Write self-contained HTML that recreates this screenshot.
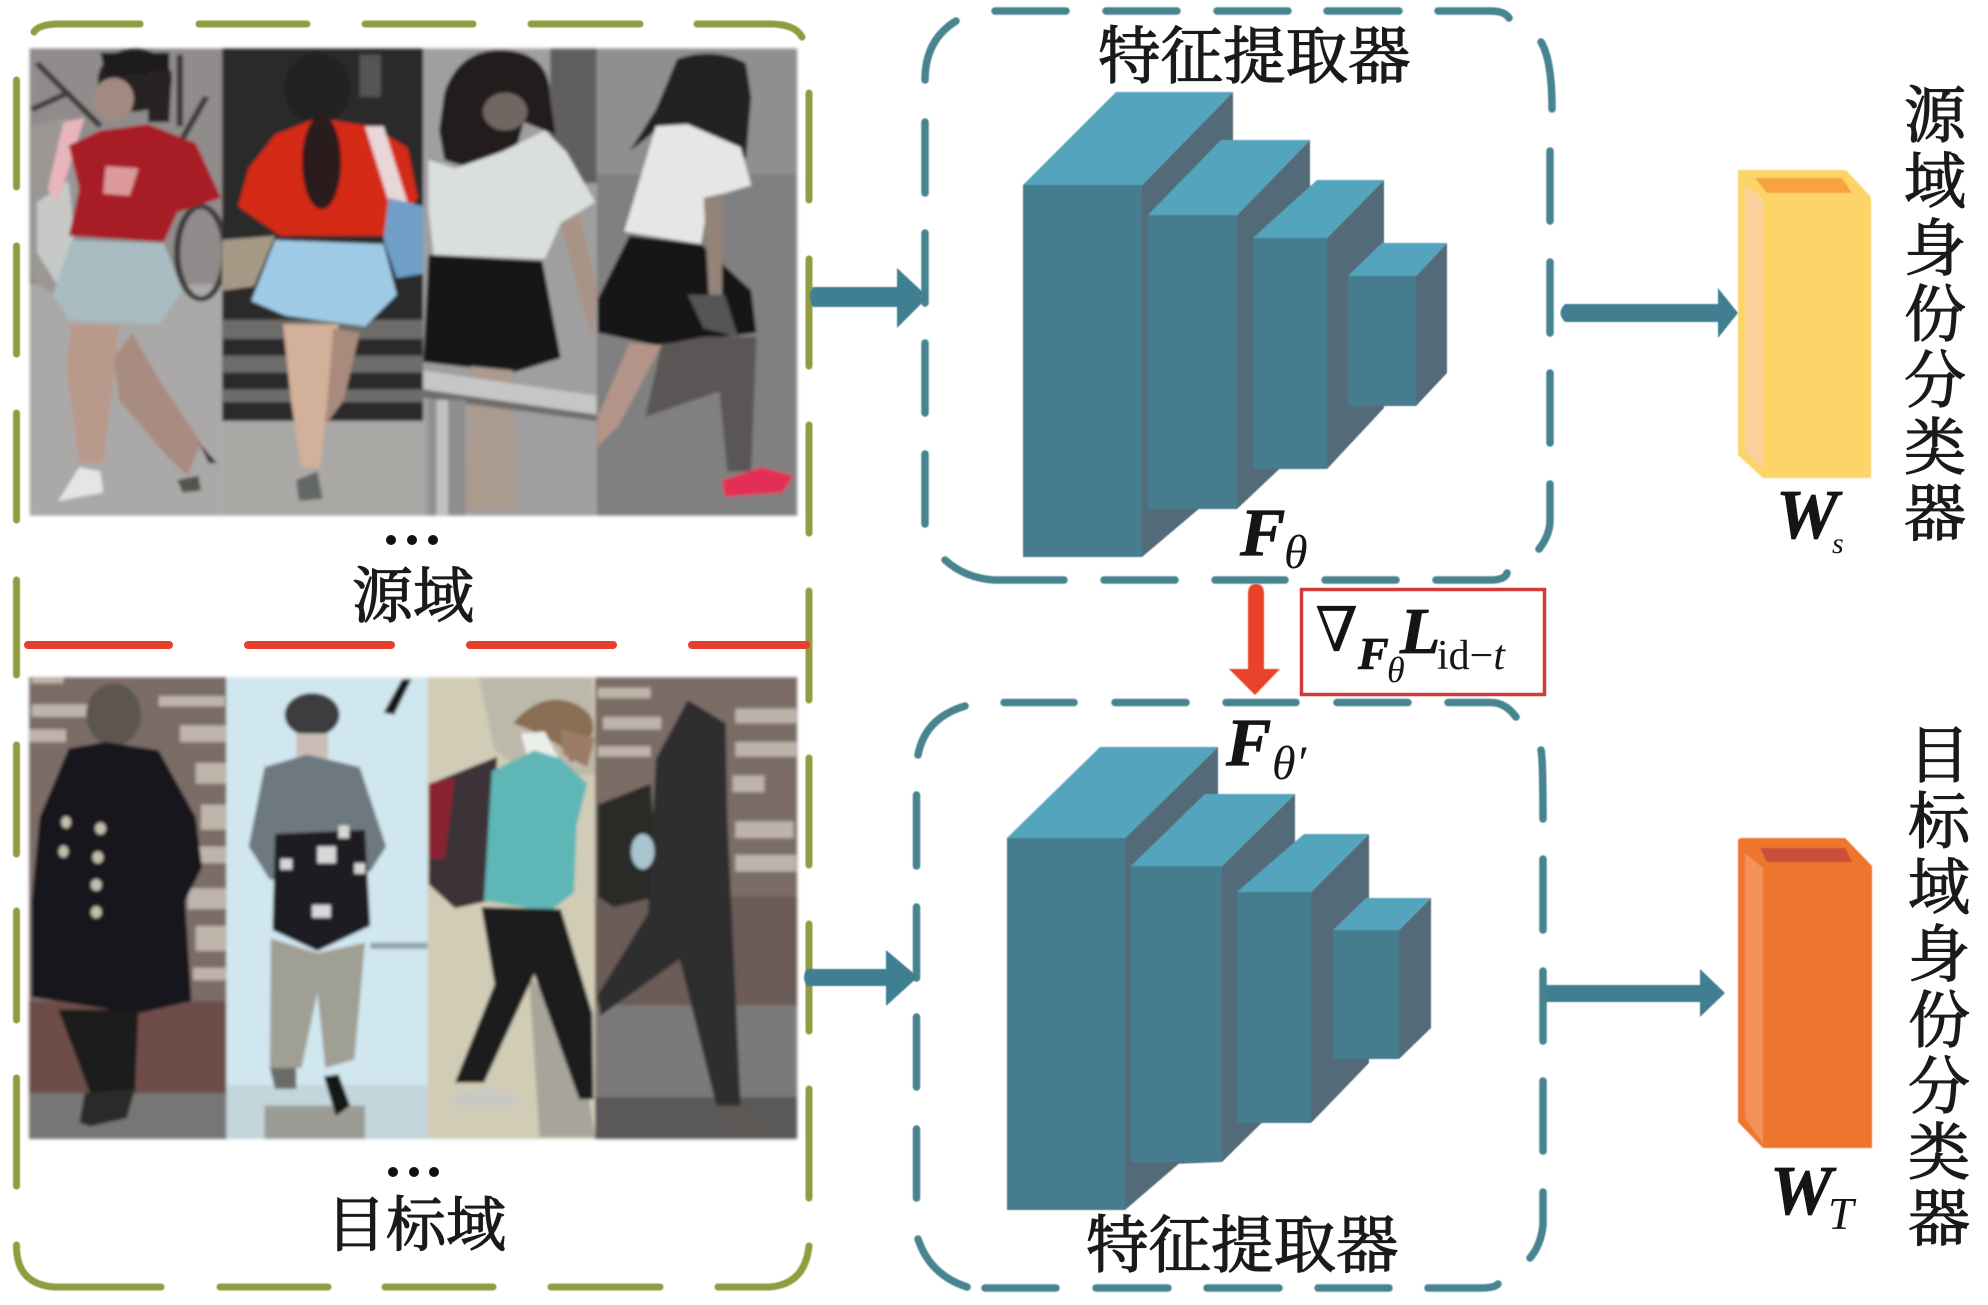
<!DOCTYPE html>
<html>
<head>
<meta charset="utf-8">
<style>
html,body{margin:0;padding:0;background:#fff;width:1988px;height:1305px;overflow:hidden}
svg{display:block}
.cjk{font-family:"Liberation Serif","Noto Serif CJK SC",serif;font-size:62px;fill:#1a1a1a;stroke:#1a1a1a;stroke-width:1.2px}
.m{font-family:"Liberation Serif","DejaVu Serif",serif;fill:#151515}
.bi{font-weight:bold;font-style:italic;stroke:#151515;stroke-width:.8px}
.i{font-style:italic}
</style>
</head>
<body>
<svg width="1988" height="1305" viewBox="0 0 1988 1305" xmlns="http://www.w3.org/2000/svg">
<defs>
<filter id="b" x="-5%" y="-5%" width="110%" height="110%"><feGaussianBlur stdDeviation="1.6"/></filter>
<filter id="s" x="-5%" y="-5%" width="110%" height="110%"><feGaussianBlur stdDeviation=".6"/></filter>
<clipPath id="c1"><rect x="56" y="115" width="1451" height="1110"/></clipPath>
<clipPath id="c2"><rect x="55" y="65" width="1452" height="1105"/></clipPath>
</defs>
<rect width="1988" height="1305" fill="#fff"/>

<!-- source photos -->
<g filter="url(#b)"><g transform="scale(.529,.421)" clip-path="url(#c1)">
<!-- p1 -->
<rect x="56" y="115" width="364" height="1110" fill="#aaa9a7"/>
<rect x="56" y="115" width="364" height="560" fill="#8f8c8b"/>
<g fill="none" stroke="#3c3a3a" stroke-width="12"><path d="M70 150L190 300M60 260L130 220M340 130V300M390 230L340 340"/><ellipse cx="380" cy="600" rx="45" ry="110"/></g>
<path d="M60 300L130 280L150 420L130 580L140 740L60 660Z" fill="#9a9795"/>
<path d="M70 480L130 430L140 560L110 680L70 600Z" fill="#c7c9c7"/>
<path d="M120 290L160 280L110 480L90 450Z" fill="#e7b5bb"/>
<ellipse cx="255" cy="190" rx="70" ry="75" fill="#262222"/><ellipse cx="215" cy="235" rx="38" ry="50" fill="#a38a80"/>
<path d="M190 125H320V175L200 180Z" fill="#1e1a1a"/>
<path d="M280 170L325 170L320 290L280 290Z" fill="#2a2424"/>
<path d="M130 345L190 310L280 295L370 340L418 470L335 505L310 575L130 560L150 450Z" fill="#a81d26"/>
<path d="M200 395L262 400L245 465L195 460Z" fill="#dc9a9c"/>
<path d="M135 570L310 578L345 690L300 770L130 760L100 700Z" fill="#a8bcc2"/>
<path d="M135 770L225 775L215 900L195 1100L150 1100L125 870Z" fill="#b9998c"/>
<path d="M215 850L250 790L300 900L380 1050L355 1130L320 1090L225 950Z" fill="#a98c80"/>
<path d="M125 1160L150 1110L190 1120L195 1170L110 1190Z" fill="#e5e5e3"/>
<path d="M335 1140L375 1130L380 1165L345 1170Z" fill="#55524f"/><path d="M375 1050L410 1100L395 1100Z" fill="#33302e"/>
<!-- p2 -->
<rect x="420" y="115" width="380" height="1110" fill="#aaa8a5"/>
<rect x="420" y="115" width="380" height="885" fill="#2b2a2b"/>
<g fill="#6e6c6a"><rect x="420" y="760" width="380" height="45"/><rect x="420" y="845" width="380" height="40"/><rect x="420" y="925" width="380" height="30"/></g>
<path d="M420 570L520 560L480 680L420 690Z" fill="#a59986"/>
<rect x="680" y="130" width="40" height="100" fill="#555"/>
<ellipse cx="600" cy="210" rx="62" ry="85" fill="#242020"/>
<path d="M520 320L600 280L700 300L770 350L790 470L730 560L530 560L450 490L470 400Z" fill="#d42c14"/>
<ellipse cx="608" cy="385" rx="37" ry="112" fill="#2c1a1a"/>
<path d="M690 300L725 300L770 480L735 480Z" fill="#e9d6d8"/>
<path d="M735 470L800 490V650L750 660L725 570Z" fill="#6f9fc8"/>
<path d="M520 570L725 580L750 700L690 775L540 750L475 715Z" fill="#9fcae6"/>
<path d="M535 770L640 770L615 1000L605 1110L570 1110L550 950Z" fill="#d2b09a"/>
<path d="M630 780L680 790L650 950L615 1010Z" fill="#a88b7c"/>
<path d="M560 1140L600 1120L610 1185L565 1190Z" fill="#646766"/>
<!-- p3 -->
<rect x="800" y="115" width="328" height="1110" fill="#a09fa0"/>
<rect x="1040" y="115" width="88" height="320" fill="#605e5e"/>
<path d="M840 220Q870 110 960 120Q1040 130 1040 230L1050 320L990 290L970 380L890 400L840 380L830 310Z" fill="#201c1c"/>
<ellipse cx="955" cy="265" rx="42" ry="45" fill="#6f6662"/>
<path d="M810 380L860 400L950 360L1030 310L1070 360L1125 480L1060 530L1030 615L820 605L810 500Z" fill="#dadedd"/>
<path d="M810 605L1025 620L1060 850L970 885L800 860Z" fill="#161416"/>
<path d="M1060 530L1095 510L1130 690L1120 800L1095 700Z" fill="#a89386"/>
<path d="M890 870L970 880L975 1210L880 1210Z" fill="#ab9a8e"/>
<path d="M800 880L1128 940V990L800 925Z" fill="#c6c6c6"/><path d="M800 925L1128 985V1000L800 945Z" fill="#6d6d6d"/>
<rect x="810" y="950" width="70" height="275" fill="#8f8f8e"/><rect x="825" y="950" width="22" height="275" fill="#c0c0c0"/>
<!-- p4 -->
<rect x="1128" y="115" width="379" height="1110" fill="#808080"/>
<rect x="1128" y="115" width="379" height="300" fill="#908f8f"/>
<path d="M1280 140Q1350 110 1410 150L1420 230L1410 380L1380 340L1250 300L1190 360L1240 260Z" fill="#242020"/>
<path d="M1240 300L1300 295L1400 350L1420 440L1340 470L1325 580L1180 550Z" fill="#e6e6e6"/>
<path d="M1190 560L1325 580L1420 690L1430 790L1240 820L1130 790V710Z" fill="#121214"/>
<path d="M1300 700L1370 700L1395 800L1330 780Z" fill="#555"/>
<path d="M1330 470L1365 460L1365 700L1340 700Z" fill="#938378"/>
<path d="M1190 815L1250 820L1170 1010L1130 1060V990Z" fill="#b49488"/>
<path d="M1250 820L1330 800L1430 800L1420 1120L1375 1120L1360 930L1220 990Z" fill="#5a5655"/>
<path d="M1365 1140L1440 1110L1500 1130L1480 1170L1370 1180Z" fill="#e32e55"/>
</g></g>

<!-- target photos -->
<g filter="url(#b)"><g transform="translate(0,650) scale(.529,.418)" clip-path="url(#c2)">
<!-- p5 -->
<rect x="55" y="65" width="373" height="1105" fill="#7c6c66"/>
<g fill="#bdb4aa"><rect x="60" y="130" width="110" height="30"/><rect x="55" y="190" width="70" height="30"/><rect x="300" y="110" width="125" height="25"/><rect x="340" y="180" width="88" height="40"/><rect x="370" y="270" width="58" height="50"/><rect x="380" y="370" width="48" height="60"/><rect x="360" y="470" width="68" height="40"/><rect x="355" y="570" width="73" height="50"/><rect x="370" y="660" width="58" height="60"/><rect x="365" y="760" width="63" height="30"/><rect x="60" y="60" width="60" height="20"/></g>
<rect x="55" y="840" width="373" height="230" fill="#6e4e48"/>
<rect x="55" y="1060" width="373" height="110" fill="#777675"/>
<ellipse cx="215" cy="155" rx="52" ry="75" fill="#5b5650"/>
<path d="M130 235L200 220L300 240L370 400L382 520L350 600L362 840L260 870L60 830L60 600L75 400Z" fill="#18181b"/>
<path d="M110 860L262 860L255 1060L170 1060Z" fill="#1c1c1e"/>
<path d="M160 1060L255 1050L240 1120L170 1140L150 1130Z" fill="#2b2b2b"/>
<g fill="#c5c0ae"><ellipse cx="125" cy="412" rx="9" ry="14"/><ellipse cx="190" cy="427" rx="10" ry="14"/><ellipse cx="120" cy="482" rx="9" ry="14"/><ellipse cx="185" cy="496" rx="10" ry="14"/><ellipse cx="182" cy="562" rx="10" ry="14"/><ellipse cx="182" cy="627" rx="10" ry="14"/></g>
<!-- p6 -->
<rect x="428" y="65" width="380" height="1105" fill="#d0e7f0"/>
<rect x="428" y="1040" width="380" height="130" fill="#c2d6dc"/>
<rect x="500" y="1090" width="190" height="80" fill="#9c9c96"/>
<path d="M760 70L778 70L745 155L725 150Z" fill="#121214"/>
<path d="M700 700H808V715H700Z" fill="#94a3aa"/>
<ellipse cx="590" cy="155" rx="52" ry="52" fill="#3d3d40"/>
<rect x="560" y="200" width="60" height="60" fill="#c9bdb5"/>
<path d="M500 280L580 250L680 280L730 470L700 530L510 550L470 470Z" fill="#6d797f"/>
<path d="M520 440L690 430L700 660L600 720L515 670Z" fill="#1c1c20"/>
<g fill="#d7d9d8"><rect x="530" y="500" width="22" height="25"/><rect x="600" y="470" width="35" height="40"/><rect x="670" y="510" width="20" height="25"/><rect x="590" y="610" width="35" height="30"/><rect x="640" y="420" width="20" height="30"/></g>
<path d="M512 690L600 725L690 700L670 980L615 1000L600 820L570 1000L510 1000Z" fill="#a09f94"/>
<path d="M510 1000H560V1050H520Z" fill="#6b6b68"/>
<path d="M612 1020L640 1015L662 1090L635 1115Z" fill="#141416"/>
<!-- p7 -->
<rect x="808" y="65" width="317" height="1105" fill="#d1ccb6"/>
<path d="M905 65L1120 65L1125 300L1000 300L935 240Z" fill="#bdb9aa"/>
<path d="M1000 780L1090 900L1125 1165H1020Z" fill="#a7a59a"/>
<path d="M970 175Q1020 100 1080 125Q1130 150 1120 200L1080 270L1060 230L1000 190Z" fill="#8a6e52"/>
<path d="M985 200L1030 195L1060 270L1000 270Z" fill="#eceee9"/>
<path d="M1060 190L1125 210L1110 280L1065 250Z" fill="#9d7b66"/>
<path d="M812 320L940 255L925 600L860 618L810 560Z" fill="#3d3337"/>
<path d="M810 320L860 305L840 500L810 500Z" fill="#8a2231"/>
<path d="M930 290L1010 240L1060 260L1110 320L1090 420L1085 580L1040 625L915 600Z" fill="#5fb6b6"/>
<path d="M910 615L1060 620L1120 870L1122 1075L1095 1075L1010 775L915 1035L860 1035L935 800Z" fill="#1a1a1e"/>
<path d="M855 1065L920 1045L990 1075L960 1095L860 1090Z" fill="#c9c9c4"/>
<!-- p8 -->
<rect x="1125" y="65" width="382" height="1105" fill="#7c6c66"/>
<g fill="#bcb3a9"><rect x="1140" y="160" width="110" height="30"/><rect x="1130" y="230" width="100" height="25"/><rect x="1130" y="90" width="100" height="25"/><rect x="1390" y="140" width="115" height="35"/><rect x="1390" y="220" width="115" height="35"/><rect x="1385" y="300" width="60" height="40"/><rect x="1390" y="410" width="110" height="40"/><rect x="1390" y="490" width="115" height="40"/></g>
<rect x="1125" y="590" width="382" height="260" fill="#6c5c58"/>
<rect x="1125" y="850" width="382" height="220" fill="#7b7a78"/>
<rect x="1125" y="1070" width="382" height="100" fill="#5a5958"/>
<path d="M1130 370L1230 320L1245 590L1160 615L1130 590Z" fill="#292927"/>
<path d="M1300 120L1372 175L1375 400L1400 1090L1355 1095L1285 740L1135 875L1130 825L1225 630L1240 260Z" fill="#2f2d2d"/>
<ellipse cx="1215" cy="482" rx="22" ry="42" fill="#a9c5cf"/>
<path d="M1350 1090L1400 1090L1460 1145L1390 1155Z" fill="#5d5853"/>
</g></g>

<!-- olive dashed frame -->
<g fill="none" stroke="#8f9c3f" stroke-width="7" stroke-linecap="round" filter="url(#s)">
<path d="M34 32Q38 25 56 24H140M199 24H307M365 24H473M531 24H640M697 24H770Q795 24 802 37"/>
<path d="M16.500 80V187M16.500 246V354M16.500 413V520M16.500 580V675M16.500 745V854M16.500 911V1020M16.500 1078V1186"/>
<path d="M16.500 1245Q16 1284 54 1287H161M220 1287H328M385 1287H493M551 1287H660M718 1287H770Q805 1284 809 1246"/>
<path d="M809 93V200M809 259V366M809 425V533M809 591V700M809 758V865M809 924V1031M809 1089V1198"/>
</g>

<!-- red dashed -->
<path d="M28 645H169M248 645H391M470 645H613M692 645H806" stroke="#e53f2d" stroke-width="8" stroke-linecap="round" fill="none"/>

<!-- dots -->
<g fill="#111"><circle cx="391" cy="540" r="5"/><circle cx="412" cy="540" r="5"/><circle cx="433" cy="540" r="5"/><circle cx="393" cy="1172" r="5"/><circle cx="414" cy="1172" r="5"/><circle cx="434" cy="1172" r="5"/></g>

<!-- teal dashed boxes -->
<g fill="none" stroke="#46848f" stroke-width="7.500" stroke-linecap="round" filter="url(#s)">
<path d="M925 80Q925 40 956 21M995 11H1066M1106 11H1177M1217 11H1288M1327 11H1399M1438 11H1490Q1505 11 1509 18"/>
<path d="M925 122V193M925 233V303M925 343V413M925 454V524M945 560Q965 578 994 580H1064M1104 580H1175M1215 580H1285M1325 580H1396M1436 580H1490Q1505 580 1507 573"/>
<path d="M1541 42Q1552 60 1552 109M1550 151V221M1550 262V333M1550 373V443M1550 484V520Q1550 535 1539 549"/>

<path d="M918 755Q925 718 965 706M1004 702.500H1074M1115 702.500H1186M1226 702.500H1296M1337 702.500H1408M1448 702.500H1490Q1505 702 1516 717"/>
<path d="M916.500 795V866M916.500 907V978M916.500 1017V1087M916.500 1129V1198"/>
<path d="M918 1239Q930 1275 967 1287M985 1288H1056M1096 1288H1168M1207 1288H1279M1318 1288H1389M1428 1288H1480Q1495 1288 1498 1284"/>
<path d="M1541 750Q1543 760 1543 819M1543 859V930M1543 971V1041M1543 1081V1151M1543 1192V1225Q1541 1245 1530 1258"/>
</g>

<!-- arrows teal -->
<g fill="#3f7f92" filter="url(#s)">
<path d="M813 287H897V268L928 297L897 328V307H813Q807 297 813 287Z"/>
<path d="M807 969H886V950L918 977L886 1006V986H807Q801 977 807 969Z"/>
<path d="M1565 304H1718V288L1738 313L1718 338V322H1565Q1556 313 1565 304Z"/>
<path d="M1545 985H1700V969L1725 993L1700 1017V1002H1545Z"/>
</g>

<!-- cube 1 -->
<g filter="url(#s)">
<path d="M1142 185L1233 92V480L1142 557Z" fill="#526b78"/>
<path d="M1023 185L1116 92H1233L1142 185Z" fill="#55a4bd"/>
<rect x="1023" y="185" width="119" height="372" fill="#447d8e"/>
<path d="M1237 215L1310 140V440L1237 509L1186 509V215Z" fill="#526b78"/>
<path d="M1148 215L1221 140H1310L1237 215Z" fill="#55a4bd"/>
<rect x="1148" y="215" width="89" height="294" fill="#447d8e"/>
<path d="M1327 238L1384 180V408L1327 469H1273V238Z" fill="#526b78"/>
<path d="M1253 238L1317 180H1384L1327 238Z" fill="#55a4bd"/>
<rect x="1253" y="238" width="74" height="231" fill="#447d8e"/>
<path d="M1416 276L1447 243V373L1416 406Z" fill="#526b78"/>
<path d="M1348 276L1382 243H1447L1416 276Z" fill="#55a4bd"/>
<rect x="1348" y="276" width="68" height="130" fill="#447d8e"/>
</g>

<!-- cube 2 -->
<g filter="url(#s)">
<path d="M1125 838L1218 747V1130L1125 1210Z" fill="#526b78"/>
<path d="M1007 838L1100 747H1218L1125 838Z" fill="#55a4bd"/>
<rect x="1007" y="838" width="118" height="372" fill="#447d8e"/>
<path d="M1222 866L1295 794V1090L1222 1162L1171 1164V866Z" fill="#526b78"/>
<path d="M1131 866L1205 794H1295L1222 866Z" fill="#55a4bd"/>
<rect x="1131" y="866" width="91" height="296" fill="#447d8e"/>
<path d="M1311 892L1369 834V1063L1311 1123H1259V892Z" fill="#526b78"/>
<path d="M1237 892L1304 834H1369L1311 892Z" fill="#55a4bd"/>
<rect x="1237" y="892" width="74" height="231" fill="#447d8e"/>
<path d="M1399 930L1431 898V1028L1399 1059Z" fill="#526b78"/>
<path d="M1333 930L1366 898H1431L1399 930Z" fill="#55a4bd"/>
<rect x="1333" y="930" width="66" height="129" fill="#447d8e"/>
</g>

<!-- red arrow + box -->
<path d="M1248 594Q1248 584 1256 584Q1264 584 1264 594V669H1280L1255 695L1229 669H1248Z" fill="#e8432a" filter="url(#s)"/>
<rect x="1301.500" y="589.500" width="243" height="105" fill="#fff" stroke="#d23a3a" stroke-width="3.500"/>

<!-- yellow classifier -->
<g filter="url(#s)">
<path d="M1738 170H1846L1871 197V478H1763L1738 455Z" fill="#fdd468"/>
<path d="M1745 185L1763 198V470L1745 450Z" fill="#fcd09c"/>
<path d="M1755 178H1842L1852 193H1767Z" fill="#f7a33f"/>
</g>

<!-- orange classifier -->
<g filter="url(#s)">
<path d="M1738 841Q1738 838 1742 838H1845L1872 866V1148H1763L1738 1122Z" fill="#ee752f"/>
<path d="M1745 853L1763 868V1144L1745 1118Z" fill="#f29158"/>
<path d="M1760 848H1845L1852 862H1767Z" fill="#c9503a"/>
</g>

<!-- CJK labels -->
<text class="cjk" x="1098" y="78" style="font-size:62.500px">特征提取器</text>
<text class="cjk" x="1086" y="1267" style="font-size:62.500px">特征提取器</text>
<text class="cjk" x="352" y="617" style="font-size:61px">源域</text>
<text class="cjk" x="326" y="1246" style="font-size:60px">目标域</text>
<g class="cjk" style="font-size:62px">
<text x="1904" y="137">源</text><text x="1904" y="203">域</text><text x="1904" y="270">身</text><text x="1904" y="336">份</text><text x="1904" y="402">分</text><text x="1904" y="469">类</text><text x="1904" y="535">器</text>
<text x="1908" y="777">目</text><text x="1908" y="843">标</text><text x="1908" y="909">域</text><text x="1908" y="976">身</text><text x="1908" y="1042">份</text><text x="1908" y="1108">分</text><text x="1908" y="1174">类</text><text x="1908" y="1240">器</text>
</g>

<!-- math labels -->
<text class="m bi" x="1240" y="555" font-size="68">F</text>
<text class="m i" x="1284" y="568" font-size="48">θ</text>
<text class="m bi" x="1226" y="765" font-size="68">F</text>
<text class="m i" x="1272" y="779" font-size="48">θ′</text>
<text class="m bi" x="1776" y="538" font-size="70">W</text>
<text class="m i" x="1832" y="553" font-size="30">s</text>
<text class="m bi" x="1770" y="1214" font-size="70">W</text>
<text class="m i" x="1828" y="1229" font-size="46">T</text>
<text class="m" x="1315" y="651" font-size="62">∇</text>
<text class="m bi" x="1358" y="669" font-size="46">F</text>
<text class="m i" x="1387" y="682" font-size="36">θ</text>
<text class="m bi" x="1400" y="653" font-size="66">L</text>
<text class="m" x="1437" y="669" font-size="42">id−<tspan class="i">t</tspan></text>
</svg>
</body>
</html>
